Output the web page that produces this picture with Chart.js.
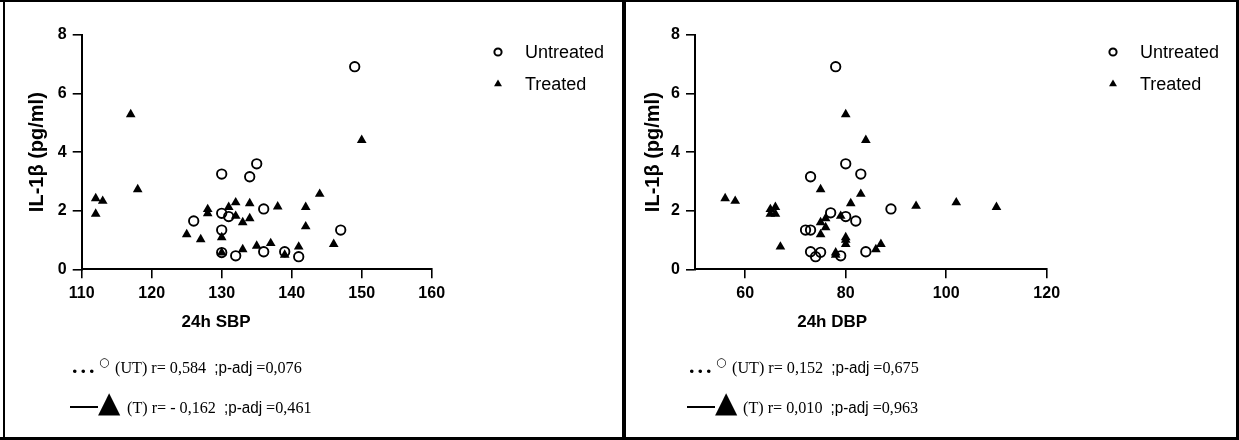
<!DOCTYPE html>
<html>
<head>
<meta charset="utf-8">
<script src="https://cdn.jsdelivr.net/npm/chart.js@4.4.0/dist/chart.umd.min.js"></script>
<style>
  body { margin: 0; width: 1239px; height: 440px; background: #fff; position: relative; overflow: hidden; }
  .panel { position: absolute; top: 0; }
  .rule { position: absolute; background: #000; }
  .note { position: absolute; white-space: nowrap; color: #000; line-height: 1; }
  .serif { font-family: 'Liberation Serif', 'Times New Roman', serif; font-size: 17px; transform: scaleX(0.95); transform-origin: left; }
  .narrow { font-family: 'Liberation Sans Narrow', 'Liberation Sans', Arial, sans-serif; font-size: 16px; }
  .dots { font-family: 'Liberation Serif', serif; font-weight: bold; font-size: 22px; letter-spacing: 3px; }
  .sym { font-family: 'DejaVu Sans', sans-serif; }
</style>
</head>
<body>
  <!-- cadre + séparateur -->
  <div class="rule" style="left:0;top:0;width:1239px;height:2px"></div>
  <div class="rule" style="left:0;top:437px;width:1239px;height:3px"></div>
  <div class="rule" style="left:3px;top:0;width:2px;height:440px"></div>
  <div class="rule" style="left:622px;top:0;width:4px;height:440px"></div>
  <div class="rule" style="left:1236px;top:0;width:3px;height:440px"></div>

  <div class="panel" style="left:0"><canvas id="grafico-sbp" width="620" height="436"></canvas></div>
  <div class="panel" style="left:620px"><canvas id="grafico-dbp" width="619" height="436"></canvas></div>

  <!-- anotações SBP -->
  <div class="note dots" style="left:72px;top:355px">...</div>
  <div class="note sym" style="left:99px;top:356px;font-size:12px">○</div>
  <div class="note serif" style="left:115px;top:359px">(UT) r= 0,584 &nbsp;<span class="narrow">;p-adj</span> =0,076</div>
  <div class="rule" style="left:70px;top:406px;width:28px;height:1.5px"></div>
  <div class="note sym" style="left:98px;top:388px;font-size:29px">▲</div>
  <div class="note serif" style="left:127px;top:399px">(T) r= - 0,162 &nbsp;<span class="narrow">;p-adj</span> =0,461</div>

  <!-- anotações DBP -->
  <div class="note dots" style="left:689px;top:355px">...</div>
  <div class="note sym" style="left:716px;top:356px;font-size:12px">○</div>
  <div class="note serif" style="left:732px;top:359px">(UT) r= 0,152 &nbsp;<span class="narrow">;p-adj</span> =0,675</div>
  <div class="rule" style="left:687px;top:406px;width:28px;height:1.5px"></div>
  <div class="note sym" style="left:715px;top:388px;font-size:29px">▲</div>
  <div class="note serif" style="left:743px;top:399px">(T) r= 0,010 &nbsp;<span class="narrow">;p-adj</span> =0,963</div>

<script>
// ---- dados ----
const sbpUntreatedX = [149, 135, 134, 130, 130, 131, 136, 126, 130, 147, 130, 132, 136, 139, 141];
const sbpUntreatedY = [6.92, 3.6, 3.16, 3.25, 1.91, 1.8, 2.06, 1.65, 1.34, 1.34, 0.57, 0.46, 0.6, 0.6, 0.43];
const sbpTreatedX = [112, 113, 112, 117, 118, 125, 127, 128, 128, 130, 130, 131, 132, 132, 133, 133, 134, 134, 135, 137, 138, 139, 141, 142, 142, 144, 146, 150];
const sbpTreatedY = [2.42, 2.33, 1.89, 5.29, 2.73, 1.19, 1.02, 2.05, 1.91, 1.09, 0.57, 2.12, 2.28, 1.82, 1.6, 0.68, 2.25, 1.74, 0.8, 0.89, 2.14, 0.49, 0.77, 2.12, 1.46, 2.57, 0.86, 4.41];

const dbpUntreatedX = [78, 80, 83, 73, 89, 77, 80, 82, 72, 73, 73, 75, 74, 79, 84];
const dbpUntreatedY = [6.92, 3.6, 3.25, 3.16, 2.06, 1.93, 1.8, 1.65, 1.34, 1.34, 0.6, 0.58, 0.43, 0.46, 0.6];
const dbpTreatedX = [56, 58, 65, 66, 65, 66, 67, 75, 75, 76, 76, 75, 78, 78, 79, 80, 80, 80, 80, 81, 83, 84, 86, 87, 94, 102, 110];
const dbpTreatedY = [2.42, 2.33, 2.05, 2.12, 1.89, 1.89, 0.77, 2.73, 1.6, 1.74, 1.43, 1.19, 0.57, 0.49, 1.82, 5.29, 1.09, 1.0, 0.86, 2.25, 2.57, 4.41, 0.68, 0.86, 2.16, 2.28, 2.12];

const yTicks = [0, 2, 4, 6, 8];
const sbpTicks = [110, 120, 130, 140, 150, 160];
const dbpTicks = [60, 80, 100, 120];

const FONTE = "'Liberation Sans', Arial, sans-serif";

const pares = (xs, ys) => xs.map((x, i) => ({ x, y: ys[i] }));

// título do eixo x e legenda desenhados à mão
const extras = {
    id: 'extras',
    afterDraw(chart, args, opts) {
        const { ctx, scales } = chart;
        ctx.save();
        ctx.fillStyle = '#000';
        ctx.font = `bold 17px ${FONTE}`;
        ctx.textAlign = 'center';
        ctx.textBaseline = 'middle';
        ctx.fillText(opts.xTitle, scales.x.getPixelForValue(opts.xTitleAt), 322);

        ctx.font = `18px ${FONTE}`;
        ctx.textAlign = 'left';
        chart.data.datasets.forEach((ds, i) => {
            const y = 52 + i * 32;
            const circulo = ds.pointStyle === 'circle';
            ctx.strokeStyle = '#000';
            ctx.fillStyle = circulo ? '#fff' : '#000';
            ctx.lineWidth = 2;
            Chart.helpers.drawPoint(ctx, {
                pointStyle: ds.pointStyle,
                radius: circulo ? 3.6 : 4.6,
                borderWidth: circulo ? 2 : 0,
                rotation: 0
            }, opts.legendX, y);
            ctx.fillStyle = '#000';
            ctx.fillText(ds.label, opts.legendX + 27, y + 1);
        });
        ctx.restore();
    }
};

const criarGrafico = (id, cfg) => new Chart(document.getElementById(id), {
    type: 'scatter',
    data: {
        datasets: [
            {
                label: 'Untreated',
                data: pares(cfg.utX, cfg.utY),
                pointStyle: 'circle',
                pointRadius: 4.7,
                borderWidth: 1.9,
                borderColor: '#000',
                backgroundColor: 'rgba(0,0,0,0)'
            },
            {
                label: 'Treated',
                data: pares(cfg.tX, cfg.tY),
                pointStyle: 'triangle',
                pointRadius: 5.6,
                borderWidth: 0,
                borderColor: '#000',
                backgroundColor: '#000'
            }
        ]
    },
    options: {
        responsive: false,
        animation: false,
        events: [],
        layout: { padding: { top: 35, right: cfg.padRight, bottom: 0, left: 0 } },
        scales: {
            x: {
                type: 'linear',
                min: cfg.xMin,
                max: cfg.xMax,
                afterBuildTicks: s => { s.ticks = cfg.xTicks.map(v => ({ value: v })); },
                afterFit: s => { s.height = 166.7; },
                ticks: { color: '#000', padding: 6, font: { family: FONTE, size: 16, weight: 'bold' } },
                grid: { drawOnChartArea: false, drawTicks: true, tickLength: 9, color: '#000', lineWidth: 1.6 },
                border: { color: '#000', width: 2 }
            },
            y: {
                min: 0,
                max: 8,
                afterBuildTicks: s => { s.ticks = yTicks.map(v => ({ value: v })); },
                afterFit: s => { s.width = cfg.yWidth; },
                ticks: { color: '#000', padding: 6, font: { family: FONTE, size: 16, weight: 'bold' } },
                grid: { drawOnChartArea: false, drawTicks: true, tickLength: 9, color: '#000', lineWidth: 1.6 },
                border: { color: '#000', width: 2 },
                title: {
                    display: true,
                    text: 'IL-1β (pg/ml)',
                    color: '#000',
                    padding: { top: cfg.yTitlePad, bottom: 0 },
                    font: { family: FONTE, size: 20, weight: 'bold' }
                }
            }
        },
        plugins: {
            legend: { display: false },
            tooltip: { enabled: false },
            extras: { xTitle: cfg.xTitle, xTitleAt: cfg.xTitleAt, legendX: cfg.legendX }
        }
    },
    plugins: [extras]
});

criarGrafico('grafico-sbp', {
    utX: sbpUntreatedX, utY: sbpUntreatedY, tX: sbpTreatedX, tY: sbpTreatedY,
    xMin: 110, xMax: 160, xTicks: sbpTicks,
    yWidth: 81.7, padRight: 188.3, yTitlePad: 25,
    xTitle: '24h SBP', xTitleAt: 129.2, legendX: 498
});

criarGrafico('grafico-dbp', {
    utX: dbpUntreatedX, utY: dbpUntreatedY, tX: dbpTreatedX, tY: dbpTreatedY,
    xMin: 50, xMax: 120, xTicks: dbpTicks,
    yWidth: 75, padRight: 192.3, yTitlePad: 21,
    xTitle: '24h DBP', xTitleAt: 77.3, legendX: 493
});
</script>
</body>
</html>
